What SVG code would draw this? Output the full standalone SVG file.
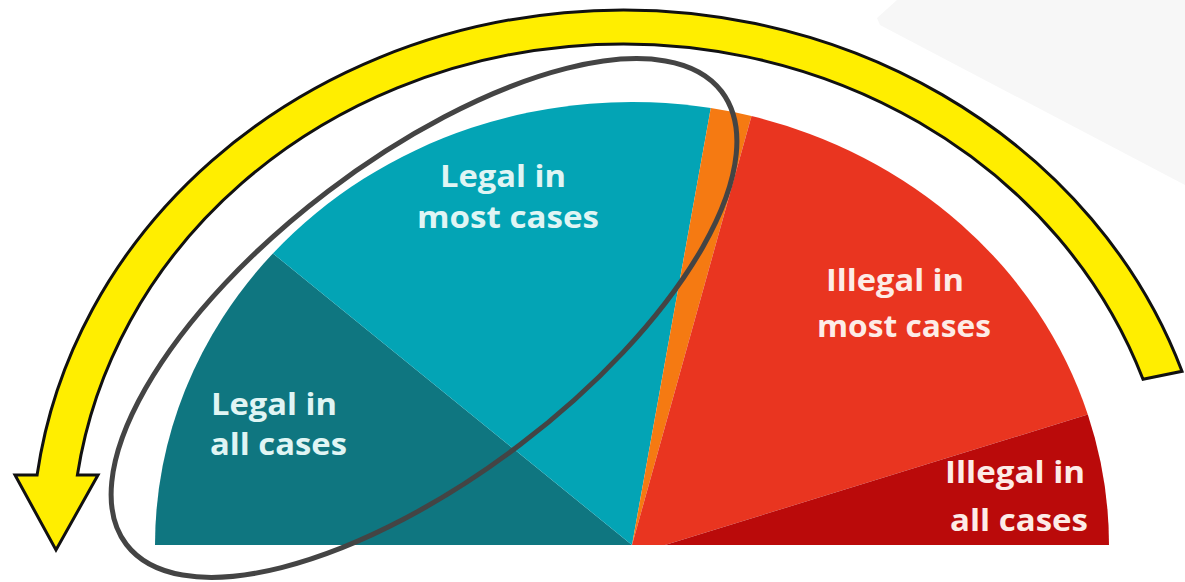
<svg xmlns="http://www.w3.org/2000/svg" width="1185" height="582" viewBox="0 0 1185 582">
<style>
.lbl{font-family:"Open Sans","Liberation Sans",sans-serif;font-weight:700;font-size:30px}
.lt{fill:#e0f5f4}
.lr{fill:#fdece7}
.slice{stroke:none}
</style>
<rect width="1185" height="582" fill="#ffffff"/>
<polygon points="897,0 877,18 880,25 1185,185 1185,0" fill="#f7f7f7"/>
<g id="chart">
  <g id="legal-all">
    <path class="slice" d="M632,545 L155,545 A477,443 0 0 1 272.9,253.4 Z" fill="#0f7680"/>
    <text class="lbl lt" x="211" y="415" textLength="126" lengthAdjust="spacingAndGlyphs">Legal in</text>
    <text class="lbl lt" x="210" y="455" textLength="137" lengthAdjust="spacingAndGlyphs">all cases</text>
  </g>
  <g id="legal-most">
    <path class="slice" d="M632,545 L272.9,253.4 A477,443 0 0 1 710.8,108.1 Z" fill="#03a4b5"/>
    <text class="lbl lt" x="440" y="187" textLength="126" lengthAdjust="spacingAndGlyphs">Legal in</text>
    <text class="lbl lt" x="417" y="228" textLength="182" lengthAdjust="spacingAndGlyphs">most cases</text>
  </g>
  <g id="neutral">
    <path class="slice" d="M632,545 L710.8,108.1 A477,443 0 0 1 751.5,116.1 Z" fill="#f57a12"/>
  </g>
  <g id="illegal-most">
    <path class="slice" d="M632,545 L751.5,116.1 A477,443 0 0 1 1087.8,414.5 L665,545 Z" fill="#e93520"/>
    <text class="lbl lr" x="826" y="291" textLength="138" lengthAdjust="spacingAndGlyphs">Illegal in</text>
    <text class="lbl lr" x="817" y="337" textLength="174" lengthAdjust="spacingAndGlyphs">most cases</text>
  </g>
  <g id="illegal-all">
    <path class="slice" d="M665,545 L1087.8,414.5 A477,443 0 0 1 1109,545 Z" fill="#ba0a0a"/>
    <text class="lbl lr" x="945" y="483" textLength="140" lengthAdjust="spacingAndGlyphs">Illegal in</text>
    <text class="lbl lr" x="950" y="531" textLength="138" lengthAdjust="spacingAndGlyphs">all cases</text>
  </g>
</g>
<g id="highlight">
  <ellipse cx="424" cy="318" rx="374" ry="159" transform="rotate(-37.25 424 318)" fill="none" stroke="#444444" stroke-width="5"/>
</g>
<g id="connectors">
  <path id="yellow-arrow" d="M1182,371.3 A591,535 0 0 0 37.1,475 L15,475 L56,550 L98,475 L77.4,475 A551,501 0 0 1 1143,379.3 Z" fill="#ffee00" stroke="#111111" stroke-width="3" stroke-linejoin="miter"/>
</g>
</svg>
